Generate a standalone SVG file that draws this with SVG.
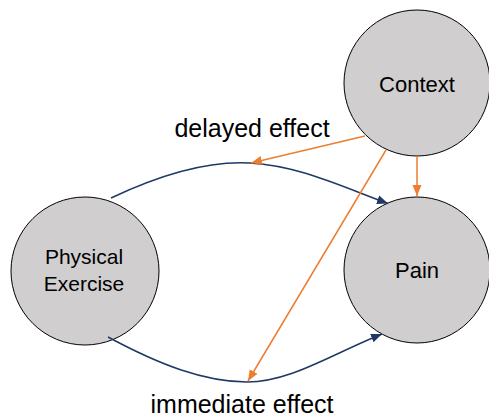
<svg xmlns="http://www.w3.org/2000/svg" width="489" height="417" viewBox="0 0 489 417">
<style>
.node{fill:#D0CECE;stroke:#000;stroke-width:1}
.lbl{font-family:"Liberation Sans",Arial,sans-serif;fill:#000;text-anchor:middle}
.navy{fill:none;stroke:#1F3864;stroke-width:1.5}
.orange{fill:none;stroke:#ED7D31;stroke-width:1.5}
</style>
<defs>
<marker id="an" markerUnits="userSpaceOnUse" markerWidth="12" markerHeight="10" refX="11" refY="5" orient="auto">
<path d="M0,0.5 L11,5 L0,9.5 Z" fill="#1F3864"/>
</marker>
<marker id="ao" markerUnits="userSpaceOnUse" markerWidth="12" markerHeight="10" refX="11" refY="5" orient="auto">
<path d="M0,0.5 L11,5 L0,9.5 Z" fill="#ED7D31"/>
</marker>
</defs>
<g id="context"><circle class="node" cx="417" cy="83" r="73"/><text class="lbl" x="417" y="92" font-size="22">Context</text></g>
<g id="pain"><circle class="node" cx="417" cy="270" r="73"/><text class="lbl" x="417" y="278" font-size="22">Pain</text></g>
<g id="exercise"><circle class="node" cx="85" cy="271" r="74"/><text class="lbl" x="84" y="264" font-size="21">Physical</text><text class="lbl" x="84" y="291" font-size="21">Exercise</text></g>
<g id="connectors">
<path class="navy" d="M111,198 C170,170 215,161 250,163 C300,166 340,186 388,203.5" marker-end="url(#an)"/>
<path class="navy" d="M108,337 C160,365 205,382 247,382 C290,382 330,355 382,334" marker-end="url(#an)"/>
<line class="orange" x1="365" y1="136" x2="251" y2="163" marker-end="url(#ao)"/>
<line class="orange" x1="386" y1="150" x2="248" y2="381" marker-end="url(#ao)"/>
<line class="orange" x1="417" y1="156" x2="417" y2="196" marker-end="url(#ao)"/>
</g>
<text class="lbl" x="252" y="137" font-size="25">delayed effect</text>
<text class="lbl" x="242" y="413" font-size="25">immediate effect</text>
</svg>
